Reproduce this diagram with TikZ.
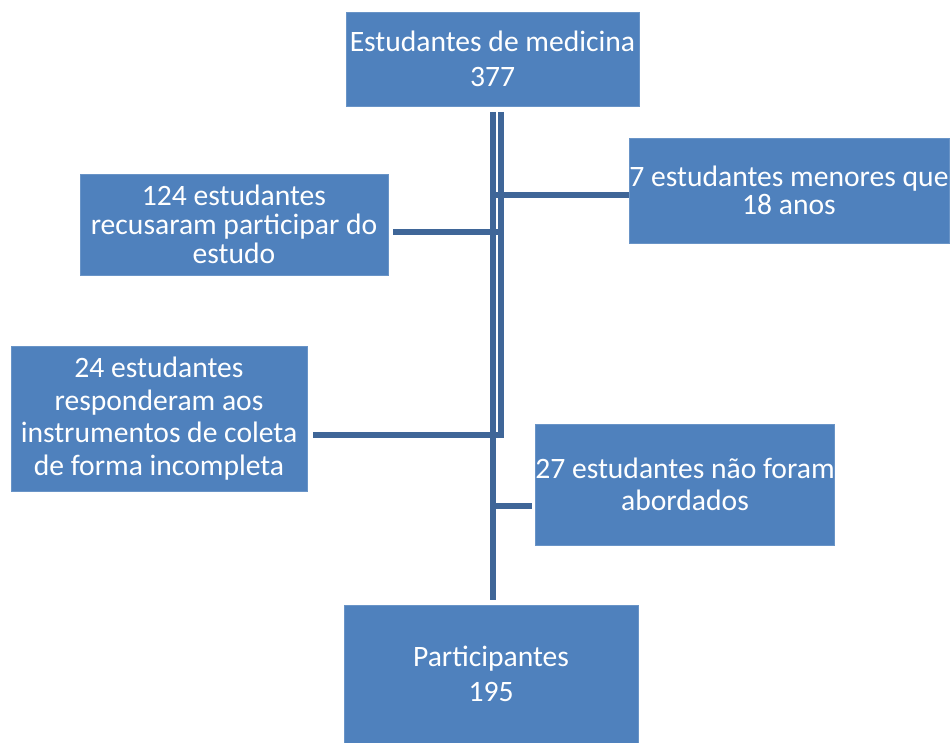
\documentclass[tikz,border=0pt]{standalone}
\usepackage{fontspec}
\setmainfont{Carlito}
\begin{document}
\begin{tikzpicture}[x=1pt,y=-1pt,
  box/.style={fill=boxblue,draw=boxblue!85!white,line width=0.8pt,text=white,align=center,inner sep=0pt,
    font=\fontsize{29.6}{32.5}\selectfont},
  conn/.style={draw=lineblue,line width=5.5pt}]
\definecolor{boxblue}{HTML}{4F81BD}
\definecolor{lineblue}{HTML}{3F6698}
\useasboundingbox (0,0) rectangle (950,743);
\node[box,minimum width=293pt,minimum height=94pt] (top) at (492.5,59) {Estudantes de medicina\\[2.5pt]377};
\node[box,minimum width=308pt,minimum height=101pt] (recusa) at (234,224.5) {124 estudantes\\[-3.5pt]recusaram participar do\\[-3.5pt]estudo};
\node[box,minimum width=320pt,minimum height=105pt] (menores) at (789,190.5) {7 estudantes menores que\\[-4.5pt]18 anos};
\node[box,minimum width=296pt,minimum height=145pt] (incomp) at (159,418.5) {24 estudantes\\responderam aos\\instrumentos de coleta\\de forma incompleta};
\node[box,minimum width=296pt,minimum height=121pt] (naoab) at (685,484.5) {27 estudantes não foram\\abordados};
\node[box,minimum width=294pt,minimum height=138pt] (part) at (491,674) {Participantes\\[2.5pt]195};
\coordinate (aTop) at (493,112);
\coordinate (aBot) at (493,600);
\coordinate (bTop) at (501,112);
\coordinate (bTurn) at (501,435);
\coordinate (bEnd) at (313,435);
\coordinate (lStart) at (393,232);
\coordinate (lEnd) at (501,232);
\coordinate (rStart) at (493,195);
\coordinate (nStart) at (493,506);
\coordinate (nEnd) at (532,506);
\draw[conn] (aTop) -- (aBot);
\draw[conn] (bTop) -- (bTurn) -- (bEnd);
\draw[conn] (lStart) -- (lEnd);
\draw[conn] (rStart) -- (rStart -| menores.west);
\draw[conn] (nStart) -- (nEnd);
\end{tikzpicture}
\end{document}
